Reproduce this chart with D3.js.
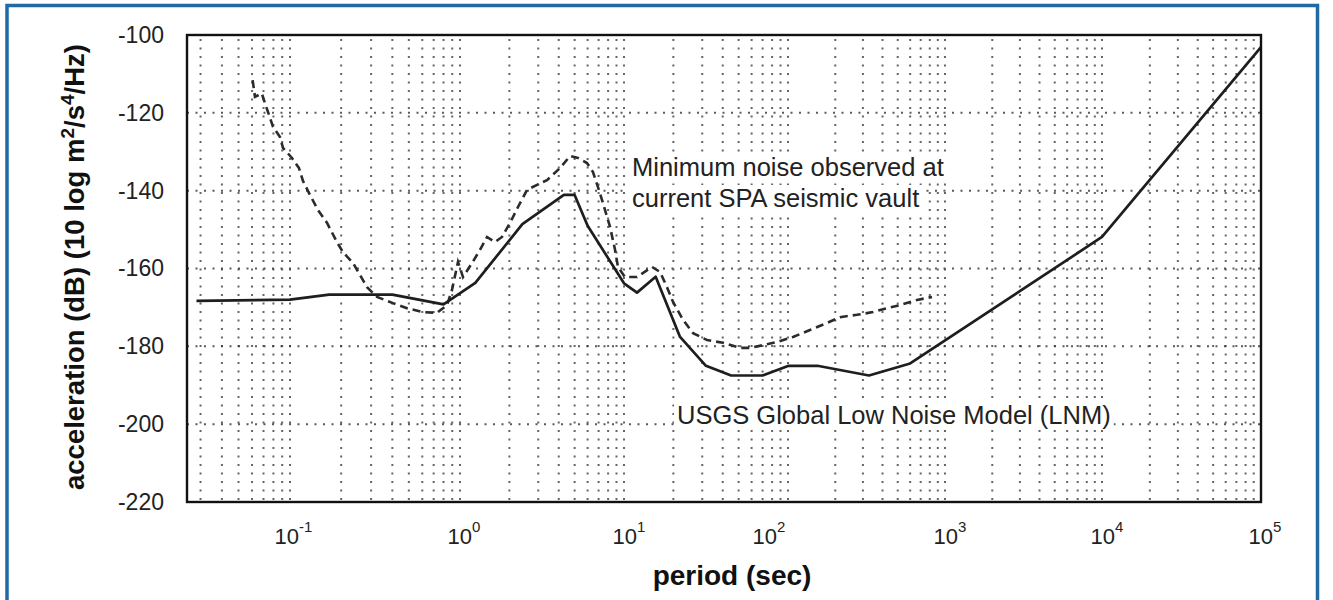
<!DOCTYPE html>
<html><head><meta charset="utf-8">
<script src="https://cdn.jsdelivr.net/npm/d3@7"></script>
<style>body{margin:0;background:#fff}svg{display:block}</style>
</head><body><svg id="c" width="1333" height="600"></svg>
<script>
// USGS Global Low Noise Model (solid)
const lnmPeriod = [0.0284, 0.1, 0.17, 0.4, 0.8, 1.24, 2.4, 4.3, 5.0, 6.0, 10, 12, 15.6, 21.9, 31.6, 45, 70, 101, 154, 328, 600, 10000, 100000];
const lnmDb = [-168.3, -168.0, -166.7, -166.7, -169.2, -163.7, -148.6, -141.1, -141.1, -149.0, -163.8, -166.2, -162.1, -177.5, -185.0, -187.5, -187.5, -185.0, -185.0, -187.5, -184.4, -151.9, -103.1];
// Minimum noise observed at SPA vault (dashed)
const spaPeriod = [0.0605, 0.0624, 0.0684, 0.0714, 0.0764, 0.0796, 0.0874, 0.0910, 0.1027, 0.1129, 0.1192, 0.1311, 0.1462, 0.1652, 0.1889, 0.2049, 0.2349, 0.2582, 0.2839, 0.3250, 0.4036, 0.4877, 0.6053, 0.7325, 0.8389, 0.8974, 0.9733, 1.043, 1.184, 1.324, 1.462, 1.634, 1.803, 2.018, 2.258, 2.562, 2.950, 3.392, 4.072, 4.688, 5.245, 5.947, 6.470, 6.940, 7.447, 8.220, 8.817, 9.188, 10.14, 12.0, 14.82, 16.59, 18.29, 19.91, 22.91, 26.37, 32.09, 40.15, 50.96, 58.66, 70.42, 85.74, 107.6, 138.0, 177.0, 214.2, 274.9, 347.5, 427.2, 516.9, 663.1, 826.3];
const spaDb = [-111.6, -115.9, -115.0, -117.5, -121.3, -123.6, -126.2, -129.0, -131.6, -134.2, -137.5, -141.1, -145.0, -148.3, -153.2, -155.8, -158.6, -161.7, -164.8, -167.3, -168.9, -170.2, -171.2, -171.4, -169.4, -165.5, -158.3, -162.2, -158.6, -155.2, -151.9, -153.2, -151.9, -148.3, -144.2, -139.8, -138.5, -137.3, -134.2, -131.1, -131.6, -132.9, -135.2, -139.1, -143.2, -149.3, -155.2, -159.6, -162.2, -162.2, -159.6, -160.9, -164.8, -168.6, -173.2, -176.6, -178.4, -179.1, -180.4, -180.4, -179.7, -178.9, -177.6, -175.8, -174.0, -172.5, -171.9, -171.2, -170.2, -169.4, -168.1, -167.3];
const yTicks = [-100, -120, -140, -160, -180, -200, -220];
const yGrid = [-120, -140, -160, -180, -200];
const xDecades = [0.1, 1, 10, 100, 1000, 10000, 100000];
const xExponents = ["-1", "0", "1", "2", "3", "4", "5"];
const notes = ["Minimum noise observed at", "current SPA seismic vault", "USGS Global Low Noise Model (LNM)"];

const FONT = "'Liberation Sans', Arial, sans-serif";
const svg = d3.select("#c");

// blue outer frame
svg.append("rect").attr("x", 7).attr("y", 5.5).attr("width", 1310.5).attr("height", 640)
  .attr("fill", "none").attr("stroke", "#1f69a6").attr("stroke-width", 3.5);

const x = d3.scaleLog()
  .domain([0.025, 0.1, 1, 10, 100, 1000, 1e4, 1e5])
  .range([187, 290, 460, 624, 788, 945, 1102, 1261]);
const xLab = d3.scaleLog().domain(xDecades).range([286, 459, 624, 764, 945, 1102, 1260]);
const y = d3.scaleLinear().domain([-220, -100]).range([502, 35]);

const [x0, x1] = [x(0.025), x(1e5)];
const [yb, yt] = [y(-220), y(-100)];

// grid
const vGrid = [];
for (let e = -2; e <= 4; e++) for (let k = 1; k <= 9; k++) {
  const v = k * Math.pow(10, e);
  if (v > 0.025 && v < 1e5) vGrid.push(v);
}
const g = svg.append("g");
g.selectAll("line.v").data(vGrid).join("line")
  .attr("x1", d => x(d)).attr("x2", d => x(d)).attr("y1", yt + 4).attr("y2", yb)
  .attr("stroke", "#333").attr("stroke-width", 2).attr("stroke-dasharray", "2,6.5").attr("opacity", 0.75);
g.selectAll("line.h").data(yGrid).join("line")
  .attr("x1", x0).attr("x2", x1).attr("y1", d => y(d)).attr("y2", d => y(d))
  .attr("stroke", "#333").attr("stroke-width", 2).attr("stroke-dasharray", "2,6.5").attr("opacity", 0.8);

// annotations (white backing hides the grid like in the original)
const ann = svg.append("g").attr("font-family", FONT).attr("font-size", 25.5).attr("fill", "#222");
const annPos = [[632, 176], [632, 207], [677, 424]];
notes.forEach((s, i) => {
  const t = ann.append("text").attr("x", annPos[i][0]).attr("y", annPos[i][1]).text(s);
  const b = t.node().getBBox();
  ann.insert("rect", "text").attr("x", b.x - 3).attr("y", b.y + 1).attr("width", b.width + 6).attr("height", b.height - 1)
    .attr("fill", "#fff");
});

// lines
const lnm = lnmPeriod.map((p, i) => [p, lnmDb[i]]);
const spa = spaPeriod.map((p, i) => [p, spaDb[i]]);
const line = d3.line().x(d => x(d[0])).y(d => y(d[1]));
svg.append("path").attr("d", line(spa)).attr("fill", "none")
  .attr("stroke", "#2b2b2b").attr("stroke-width", 2.6).attr("stroke-dasharray", "8,5");
svg.append("path").attr("d", line(lnm)).attr("fill", "none")
  .attr("stroke", "#1e1e1e").attr("stroke-width", 2.7).attr("stroke-linejoin", "round");

// frame
svg.append("rect").attr("x", x0).attr("y", yt).attr("width", x1 - x0).attr("height", yb - yt)
  .attr("fill", "none").attr("stroke", "#111").attr("stroke-width", 2.4);

// y axis
const ya = svg.append("g").attr("transform", `translate(${x0},0)`)
  .call(d3.axisLeft(y).tickValues(yTicks).tickSize(0).tickPadding(23).tickFormat(d => String(d)));
ya.select(".domain").remove();
ya.selectAll("text").attr("font-family", FONT).attr("font-size", 23).attr("fill", "#222");

// x axis
const xa = svg.append("g").attr("transform", `translate(0,${yb})`)
  .call(d3.axisBottom(xLab).tickValues(xDecades).tickSize(0).tickFormat(() => ""));
xa.select(".domain").remove();
xa.selectAll(".tick text").each(function(d, i) {
  const t = d3.select(this);
  t.text(null).attr("y", 42).attr("dy", null).attr("x", -12).attr("text-anchor", "start")
    .attr("font-family", FONT).attr("font-size", 22).attr("fill", "#222");
  t.append("tspan").text("10");
  t.append("tspan").attr("dy", -12).attr("font-size", 15).text(xExponents[i]);
});

// axis titles
svg.append("text").attr("x", 732).attr("y", 585).attr("text-anchor", "middle")
  .attr("font-family", FONT).attr("font-weight", "bold").attr("font-size", 28).attr("fill", "#111")
  .text("period (sec)");
const yl = svg.append("text").attr("transform", "translate(84,267) rotate(-90)").attr("text-anchor", "middle")
  .attr("font-family", FONT).attr("font-weight", "bold").attr("font-size", 27.5).attr("fill", "#111");
yl.append("tspan").text("acceleration (dB) (10 log m");
yl.append("tspan").attr("dy", -10).attr("font-size", 19).text("2");
yl.append("tspan").attr("dy", 10).text("/s");
yl.append("tspan").attr("dy", -10).attr("font-size", 19).text("4");
yl.append("tspan").attr("dy", 10).text("/Hz)");
</script></body></html>
